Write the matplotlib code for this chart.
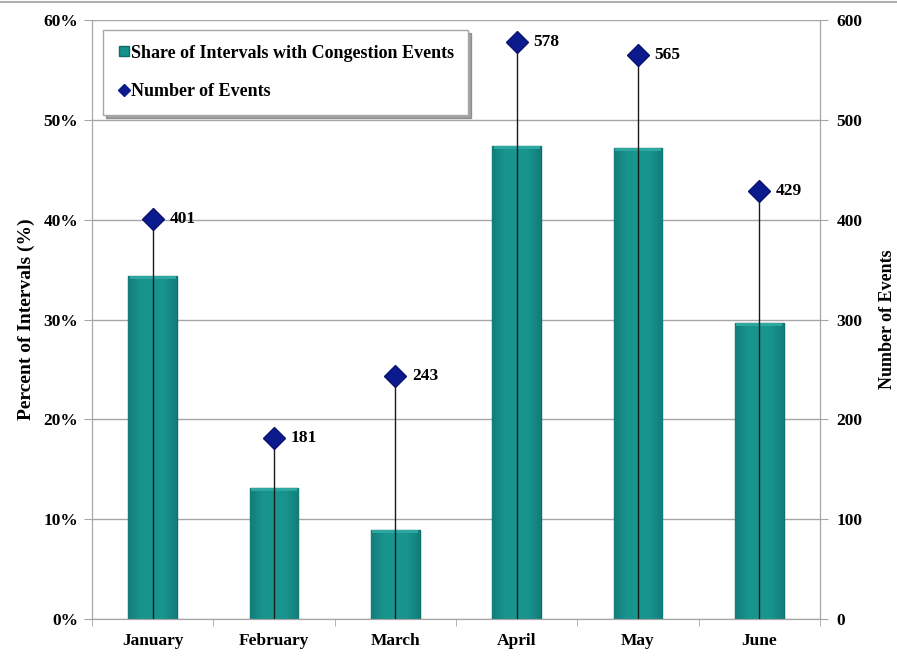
# monthly congestion share and event counts

import numpy as np
from matplotlib import pyplot as plt
from matplotlib.lines import Line2D
from matplotlib.colors import LinearSegmentedColormap

months = ["January", "February", "March", "April", "May", "June"]
share_pct = [34.4, 13.1, 8.9, 47.4, 47.2, 29.6]
num_events = [401, 181, 243, 578, 565, 429]

plt.rcParams['font.family'] = ['Liberation Serif', 'DejaVu Serif']
plt.rcParams['font.weight'] = 'bold'

teal = '#17918c'
navy = '#0b1a8c'
grid_gray = '#a6a6a6'

fig = plt.figure(figsize=(8.97, 6.56), dpi=100)
ax = fig.add_axes([92/897, 1-619/656, (820-92)/897, (619-20)/656])
ax2 = ax.twinx()

x = np.arange(len(months))
bars = ax.bar(x, share_pct, width=0.4, color=teal, edgecolor='#0e6e6a', linewidth=1.0,
              zorder=2, label='Share of Intervals with Congestion Events')

# shade each bar a little darker at the sides
shade = LinearSegmentedColormap.from_list('shade', ['#127d79', '#18938e', '#199690', '#18938e', '#127d79'])
grad = np.linspace(0, 1, 64).reshape(1, -1)
for b in bars:
    x0, w, h = b.get_x(), b.get_width(), b.get_height()
    im = ax.imshow(grad, cmap=shade, extent=(x0, x0 + w, 0, h), aspect='auto', zorder=2.1)
    im.set_clip_path(b)
    # lighter bevel along the top
    ax.fill_between([x0 + 0.01, x0 + w - 0.01], h - 0.3, h, color='#2fa7a1', zorder=2.2, linewidth=0)

ax.set_xlim(-0.5, len(months) - 0.5)
ax.set_ylim(0, 60)
ax.set_yticks(range(0, 61, 10))
ax.set_yticklabels([f'{v}%' for v in range(0, 61, 10)])
ax.set_xticks(x)
ax.set_xticklabels(months)
ax.set_xticks(np.arange(-0.5, len(months) + 0.5, 1), minor=True)
ax.tick_params(axis='x', which='major', length=0, pad=10, labelsize=12.5)
ax.tick_params(axis='x', which='minor', length=5, color=grid_gray, direction='out')
ax.tick_params(axis='y', length=6, color=grid_gray, labelsize=12.5, pad=4)
ax.yaxis.grid(True, color=grid_gray, linewidth=1.0, zorder=0)
ax.set_axisbelow(True)
ax.set_ylabel('Percent of Intervals (%)', fontsize=14, fontweight='bold', labelpad=6)

# event counts with drop lines to the baseline
ax2.set_ylim(0, 600)
ax2.set_yticks(range(0, 601, 100))
ax2.vlines(x, 0, num_events, color='#1a1a1a', linewidth=1.0, zorder=3)
ax2.plot(x, num_events, linestyle='none', marker='D', markersize=11,
         markerfacecolor=navy, markeredgecolor='#0a1470', zorder=4,
         label='Number of Events')
for xi, n in zip(x, num_events):
    ax2.annotate(str(n), (xi, n), xytext=(12, 0), textcoords='offset points',
                 va='center', ha='left', fontsize=12.5, fontweight='bold')
ax2.tick_params(axis='y', length=6, color=grid_gray, labelsize=12.5, pad=6)
ax2.set_ylabel('Number of Events', fontsize=13, fontweight='bold', labelpad=12)

for a in (ax, ax2):
    for s in a.spines.values():
        s.set_color(grid_gray)
    a.spines['top'].set_visible(False)

handles = [
    Line2D([], [], linestyle='none', marker='s', markersize=7,
           markerfacecolor=teal, markeredgecolor='#0e6e6a'),
    Line2D([], [], linestyle='none', marker='D', markersize=6,
           markerfacecolor=navy, markeredgecolor=navy),
]
leg = ax.legend(handles, ['Share of Intervals with Congestion Events', 'Number of Events'],
                loc='upper left', bbox_to_anchor=(0.015, 0.983), borderaxespad=0,
                frameon=True, fancybox=False, shadow=True, fontsize=13,
                handletextpad=0.05, handlelength=0.7, labelspacing=1.2, borderpad=0.8)
leg.get_frame().set_edgecolor(grid_gray)
leg.get_frame().set_linewidth(1.0)
leg.set_zorder(10)

# thin border line at the top of the figure
fig.add_artist(Line2D([0, 1], [0.997, 0.997], transform=fig.transFigure,
                      color='#b0b0b0', linewidth=1.5))

fig.savefig('out.png', dpi=100)
